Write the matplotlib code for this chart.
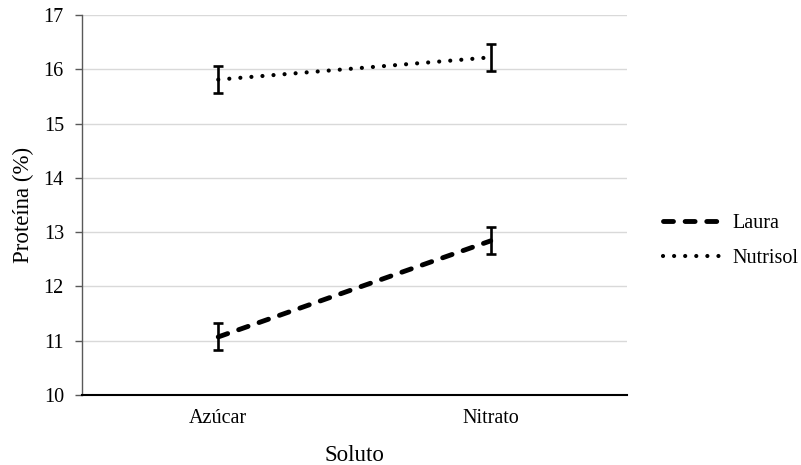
import matplotlib
matplotlib.use("Agg")
import matplotlib.pyplot as plt

solutos = ["Azúcar", "Nitrato"]
laura = [11.07, 12.84]
laura_err = [0.25, 0.25]
nutrisol = [15.81, 16.22]
nutrisol_err = [0.245, 0.245]

plt.rcParams["font.family"] = ["Liberation Serif", "DejaVu Serif"]

fig = plt.figure(figsize=(8.01, 4.65), dpi=100)
ax = fig.add_axes([82 / 801, 1 - 395 / 465, (627 - 82) / 801, (395 - 15) / 465])

x = list(range(len(solutos)))

ax.plot(x, laura, color="black", lw=3.5, ls=(0, (2.05, 2.4)),
        dash_capstyle="round", label="Laura", zorder=3)
ax.plot(x, nutrisol, color="black", lw=3.0, ls=(0, (0.01, 2.65)),
        dash_capstyle="round", label="Nutrisol", zorder=3)
ax.errorbar(x, laura, yerr=laura_err, fmt="none", ecolor="black",
            elinewidth=1.9, capsize=3.8, capthick=1.9, zorder=4)
ax.errorbar(x, nutrisol, yerr=nutrisol_err, fmt="none", ecolor="black",
            elinewidth=1.9, capsize=3.8, capthick=1.9, zorder=4)

ax.set_xlim(-0.5, 1.5)
ax.set_ylim(10, 17)
ax.set_yticks(range(10, 18))
ax.set_xticks(x)
ax.set_xticklabels(solutos)

ax.grid(axis="y", color="#d9d9d9", lw=1)
ax.set_axisbelow(True)
for side in ["top", "right"]:
    ax.spines[side].set_visible(False)
ax.spines["left"].set_color("#595959")
ax.spines["left"].set_linewidth(1)
ax.spines["bottom"].set_color("black")
ax.spines["bottom"].set_linewidth(1.5)

ax.tick_params(axis="y", length=5, color="#595959", width=1, pad=8, labelsize=14.5)
ax.tick_params(axis="x", length=0, pad=10, labelsize=14.5)

ax.set_xlabel("Soluto", fontsize=16.5, labelpad=12)
ax.set_ylabel("Proteína (%)", fontsize=16.5, labelpad=7)

fig.legend(loc="center left", bbox_to_anchor=(663 / 801, 1 - 241 / 465),
           frameon=False, fontsize=14.5, handlelength=3.1, handletextpad=0.35,
           borderpad=0, borderaxespad=0, labelspacing=0.75)

fig.savefig("out.png", dpi=100)
